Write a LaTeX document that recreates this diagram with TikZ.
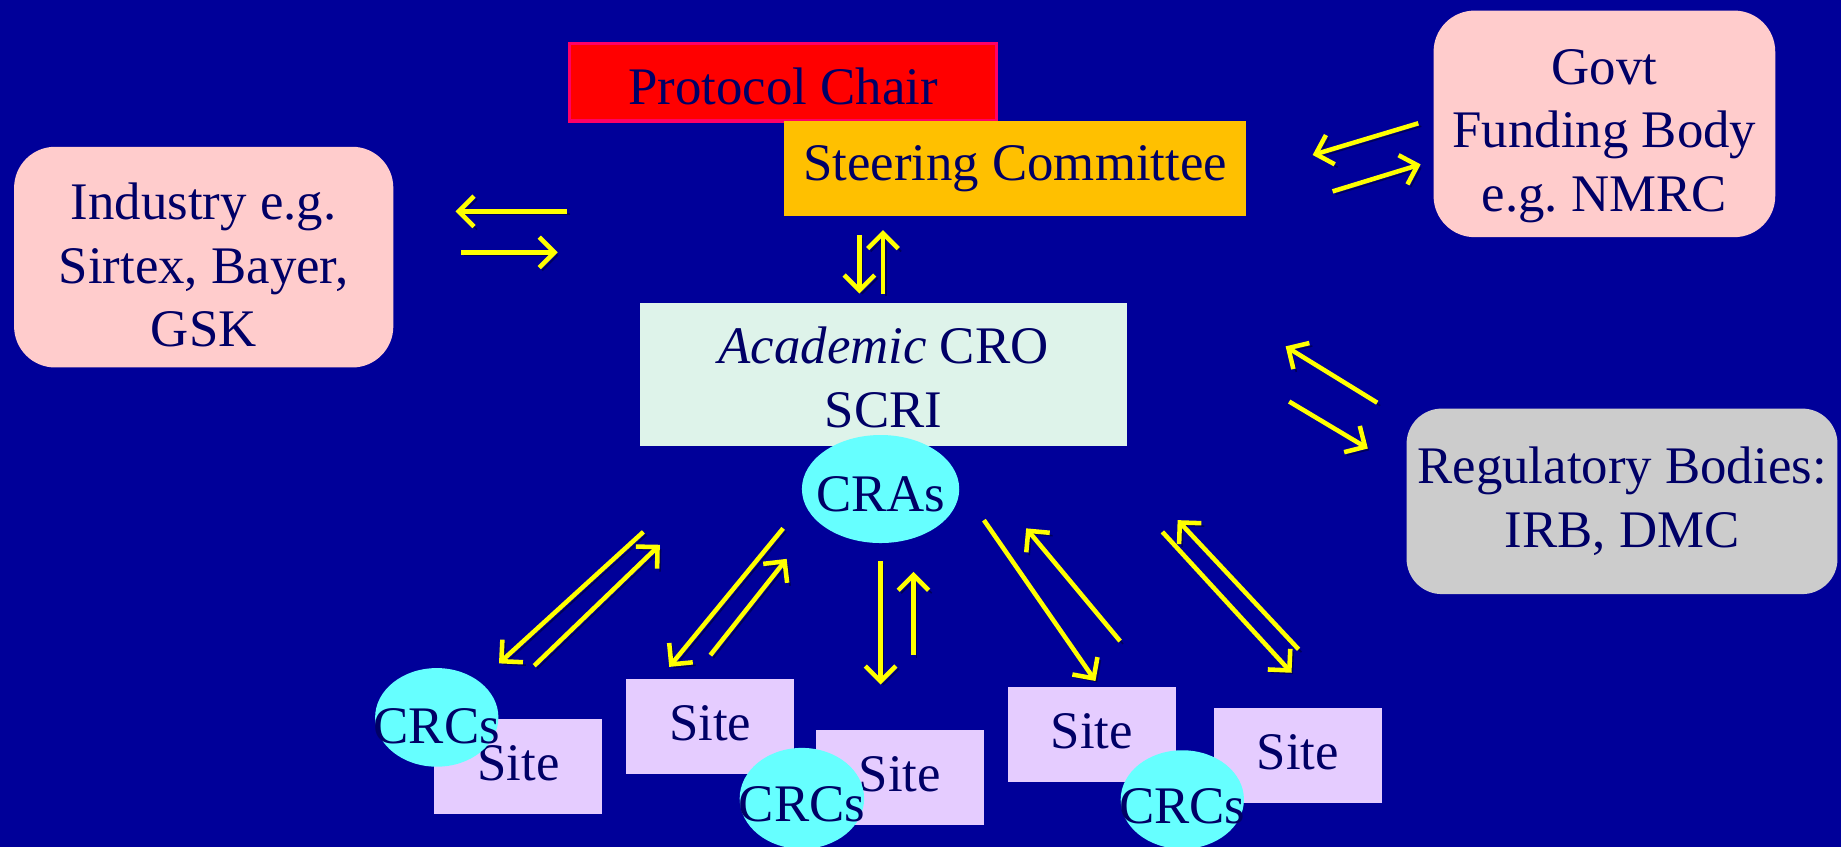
\documentclass[tikz,border=0pt]{standalone}
\usepackage{fontspec}
\setmainfont{Liberation Serif}
\usetikzlibrary{arrows.meta,shapes.geometric}
\definecolor{slidebg}{RGB}{0,0,153}
\definecolor{navytext}{RGB}{0,0,102}
\definecolor{chairred}{RGB}{255,0,0}
\definecolor{chairedge}{RGB}{255,0,102}
\definecolor{steerorange}{RGB}{255,192,0}
\definecolor{partnerpink}{RGB}{255,204,204}
\definecolor{cromint}{RGB}{222,243,234}
\definecolor{staffcyan}{RGB}{102,255,255}
\definecolor{sitelilac}{RGB}{229,204,255}
\definecolor{reggray}{RGB}{204,204,204}
\definecolor{flowyellow}{RGB}{255,255,0}
% struts that push a node text down (top) or up (bottom)
\newcommand{\toppad}[1]{\rule{0pt}{#1}}
\newcommand{\botpad}[1]{\rule[-#1]{0pt}{#1}}
\frenchspacing

\begin{document}
\begin{tikzpicture}[x=0.1mm,y=-0.1mm,
  every node/.style={text=navytext,font=\fontsize{12.8}{15.4}\selectfont},
  box/.style={inner sep=0pt,align=center},
  party/.style={box,fill=partnerpink,rounded corners=3.5mm},
  sitebox/.style={box,fill=sitelilac,minimum width=14.3mm,minimum height=8.1mm},
  staff/.style={ellipse,inner sep=0pt,fill=staffcyan},
  flow/.style={draw=flowyellow,line width=1.1pt,-{Straight Barb[length=1.3mm,width=2.6mm]},
    preaction={draw=black,draw opacity=0.4,transform canvas={shift={(0.25mm,-0.25mm)}}}}]
\fill[slidebg] (0,0) rectangle (1568,721);
\useasboundingbox (0,0) rectangle (1568,721);

% governance
\node[box,fill=chairred,draw=chairedge,line width=0.8pt,minimum width=36.4mm,minimum height=6.6mm] (chair) at (667,70) {\toppad{11pt}Protocol Chair};
\node[box,fill=steerorange,minimum width=39.3mm,minimum height=8.1mm] (steering) at (864.5,143.5) {Steering Committee};
\node[box,fill=cromint,minimum width=41.5mm,minimum height=12.2mm] (cro) at (752.5,319) {\toppad{10.4pt}\textit{Academic} CRO\\SCRI};

% outside parties
\node[party,minimum width=32.3mm,minimum height=18.8mm] (industry) at (173.5,219) {\toppad{12.7pt}Industry e.g.\\Sirtex, Bayer,\\GSK};
\node[party,minimum width=29.1mm,minimum height=19.3mm] (govt) at (1366.5,105.5) {\toppad{14.4pt}Govt\\Funding Body\\e.g. NMRC};
\node[box,fill=reggray,rounded corners=3mm,minimum width=36.7mm,minimum height=15.8mm] (regulatory) at (1381.5,427) {Regulatory Bodies:\\IRB, DMC};

% sites
\node[sitebox] (site1) at (441.5,652.5) {Site\botpad{1.7pt}};
\node[sitebox] (site2) at (605,619) {Site\botpad{1.7pt}};
\node[sitebox] (site3) at (766.5,662.5) {Site\botpad{1.7pt}};
\node[sitebox] (site4) at (930,625.5) {Site\botpad{1.7pt}};
\node[sitebox] (site5) at (1105.5,643.5) {Site\botpad{1.7pt}};

% monitors and coordinators
\node[staff,minimum width=13.4mm,minimum height=9.2mm] (cras) at (750,416.5) {\makebox[0pt]{\toppad{10.9pt}CRAs}};
\node[staff,minimum width=10.5mm,minimum height=8.4mm] (crc1) at (372,611) {\makebox[0pt]{\toppad{12.6pt}CRCs}};
\node[staff,minimum width=10.6mm,minimum height=8.6mm] (crc2) at (683,680) {\makebox[0pt]{\toppad{11.5pt}CRCs}};
\node[staff,minimum width=10.5mm,minimum height=8.4mm] (crc3) at (1007,681) {\makebox[0pt]{\toppad{11.5pt}CRCs}};

% arrow ends
\coordinate (ind1a) at (483,180); \coordinate (ind1b) at (388,180);
\coordinate (ind2a) at (393,215); \coordinate (ind2b) at (475,215);
\coordinate (str1a) at (732,200); \coordinate (str1b) at (732,250);
\coordinate (str2a) at (752,250); \coordinate (str2b) at (752,196);
\coordinate (gov1a) at (1208,105); \coordinate (gov1b) at (1118,132);
\coordinate (gov2a) at (1135,163); \coordinate (gov2b) at (1210,140);
\coordinate (reg1a) at (1173,343); \coordinate (reg1b) at (1095,295);
\coordinate (reg2a) at (1098,342); \coordinate (reg2b) at (1165,382);
\coordinate (st11a) at (548,453); \coordinate (st11b) at (425,565);
\coordinate (st12a) at (455,567); \coordinate (st12b) at (562,464);
\coordinate (st21a) at (667,450); \coordinate (st21b) at (570,568);
\coordinate (st22a) at (605,558); \coordinate (st22b) at (670,476);
\coordinate (st31a) at (750,478); \coordinate (st31b) at (750,583);
\coordinate (st32a) at (778,558); \coordinate (st32b) at (778,487);
\coordinate (st41a) at (838,443); \coordinate (st41b) at (933,580);
\coordinate (st42a) at (954,546); \coordinate (st42b) at (874,450);
\coordinate (st51a) at (990,453); \coordinate (st51b) at (1100,573);
\coordinate (st52a) at (1106,553); \coordinate (st52b) at (1003,443);

% two-way flows
\foreach \a/\b in {ind1a/ind1b,ind2a/ind2b,str1a/str1b,str2a/str2b,
  gov1a/gov1b,gov2a/gov2b,reg1a/reg1b,reg2a/reg2b,
  st11a/st11b,st12a/st12b,st21a/st21b,st22a/st22b,st31a/st31b,st32a/st32b,
  st41a/st41b,st42a/st42b,st51a/st51b,st52a/st52b}
  \draw[flow] (\a) -- (\b);
\end{tikzpicture}
\end{document}
